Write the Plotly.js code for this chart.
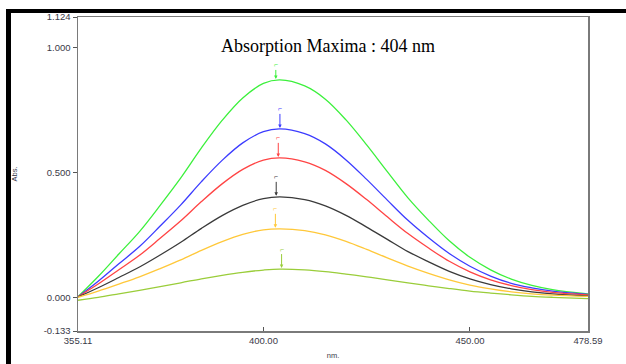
<!DOCTYPE html>
<html>
<head>
<meta charset="utf-8">
<script src="https://cdn.plot.ly/plotly-3.0.1.min.js"></script>
<style>
  html, body { margin: 0; padding: 0; background: #fff; }
  #wrap { position: relative; width: 626px; height: 364px; overflow: hidden; }
  #chart { position: absolute; left: 0; top: 0; width: 626px; height: 364px; }
  #frame { position: absolute; left: 6px; top: 9px; width: 620px; height: 355px;
           border-left: 5px solid #000; border-top: 4px solid #000; box-sizing: border-box;
           pointer-events: none; }
</style>
</head>
<body>
<div id="wrap">
  <div id="chart"></div>
  <div id="frame"></div>
</div>
<script>
// Wavelength (nm)
const wavelengths = [355.11, 360, 365, 370, 375, 380, 385, 390, 395, 400, 404, 410, 415, 420, 425, 430, 435, 440, 445, 450, 455, 460, 465, 470, 478.59];

// Absorbance series
const absGreen  = [0.004, 0.085, 0.175, 0.265, 0.370, 0.480, 0.600, 0.710, 0.800, 0.858, 0.872, 0.848, 0.795, 0.712, 0.612, 0.505, 0.400, 0.310, 0.228, 0.162, 0.112, 0.075, 0.050, 0.033, 0.016];
const absBlue   = [0.004, 0.066, 0.136, 0.205, 0.287, 0.372, 0.465, 0.550, 0.620, 0.665, 0.676, 0.657, 0.616, 0.552, 0.474, 0.391, 0.310, 0.240, 0.177, 0.126, 0.087, 0.058, 0.040, 0.027, 0.014];
const absRed    = [0.004, 0.055, 0.112, 0.170, 0.238, 0.308, 0.385, 0.456, 0.514, 0.551, 0.560, 0.544, 0.510, 0.457, 0.393, 0.324, 0.257, 0.199, 0.146, 0.104, 0.072, 0.049, 0.033, 0.022, 0.012];
const absBlack  = [0.003, 0.040, 0.081, 0.123, 0.171, 0.222, 0.278, 0.329, 0.370, 0.397, 0.404, 0.393, 0.368, 0.330, 0.283, 0.234, 0.185, 0.144, 0.106, 0.076, 0.053, 0.036, 0.024, 0.016, 0.008];
const absYellow = [0.002, 0.027, 0.055, 0.084, 0.117, 0.152, 0.190, 0.225, 0.254, 0.272, 0.276, 0.269, 0.252, 0.226, 0.194, 0.160, 0.127, 0.098, 0.072, 0.051, 0.036, 0.024, 0.016, 0.011, 0.006];
const absLime   = [-0.010, 0.002, 0.016, 0.030, 0.045, 0.060, 0.076, 0.090, 0.102, 0.111, 0.115, 0.112, 0.105, 0.095, 0.084, 0.072, 0.060, 0.048, 0.037, 0.027, 0.019, 0.012, 0.006, 0.002, -0.003];

const seriesNames = ['1', '2', '3', '4', '5', '6'];
const seriesColors = ['#3cf03c', '#3c3cff', '#ff4444', '#3a3a3a', '#ffc83a', '#9acd3a'];
const seriesValues = [absGreen, absBlue, absRed, absBlack, absYellow, absLime];

// Peak markers
const peakX = [403.0, 404.0, 403.6, 403.1, 402.9, 404.4];
const peakY = [0.872, 0.676, 0.560, 0.404, 0.276, 0.115];

// Axis ticks
const xTickVals = [355.11, 400, 450, 478.59];
const xTickText = ['355.11', '400.00', '450.00', '478.59'];
const yTickVals = [-0.133, 0, 0.5, 1.0, 1.124];
const yTickText = ['-0.133', '0.000', '0.500', '1.000', '1.124'];

const titleText = 'Absorption Maxima : 404 nm';

const traces = seriesValues.map((vals, i) => ({
  type: 'scatter', mode: 'lines',
  x: wavelengths, y: vals, name: seriesNames[i],
  line: { color: seriesColors[i], width: 1.3, shape: 'spline', smoothing: 1 },
  hoverinfo: 'x+y'
}));

const annotations = peakX.map((px, i) => ({
  x: px, y: peakY[i], xref: 'x', yref: 'y',
  text: '⌐', showarrow: true, arrowhead: 2, arrowsize: 0.7, arrowwidth: 1,
  arrowcolor: seriesColors[i], ax: 0, ay: i === 0 ? -15 : -20, standoff: 1,
  font: { family: 'Liberation Sans, Arial, sans-serif', size: 7, color: seriesColors[i] }
}));

const layout = {
  width: 626, height: 364,
  margin: { l: 78, r: 38, t: 17, b: 33 },
  paper_bgcolor: '#ffffff', plot_bgcolor: '#ffffff',
  showlegend: false,
  title: {
    text: titleText, xref: 'container', yref: 'container', x: 0.524, y: 0.874,
    xanchor: 'center', yanchor: 'middle',
    font: { family: 'Liberation Serif, Times New Roman, serif', size: 18, color: '#000' }
  },
  font: { family: 'Liberation Sans, Arial, sans-serif', size: 10, color: '#3a3a48' },
  xaxis: {
    range: [355.11, 478.59], tickmode: 'array', tickvals: xTickVals, ticktext: xTickText,
    ticks: 'inside', ticklen: 4, tickcolor: '#555', showgrid: false, zeroline: false,
    showline: true, linecolor: '#7a7a7a', linewidth: 1.5, mirror: true,
    tickfont: { size: 9.5, color: '#3a3a48' },
    title: { text: 'nm.', standoff: 8, font: { size: 7.5, color: '#3a3a48' } }
  },
  yaxis: {
    range: [-0.133, 1.124], tickmode: 'array', tickvals: yTickVals, ticktext: yTickText,
    ticks: 'outside', ticklen: 4, tickcolor: '#555', showgrid: false, zeroline: false,
    showline: true, linecolor: '#7a7a7a', linewidth: 1.5, mirror: true,
    tickfont: { size: 9.5, color: '#3a3a48' },
    title: { text: 'Abs.', standoff: 25, font: { size: 7.5, color: '#3a3a48' } }
  },
  annotations: annotations
};

Plotly.newPlot('chart', traces, layout, { displayModeBar: false, staticPlot: true });
</script>
</body>
</html>
